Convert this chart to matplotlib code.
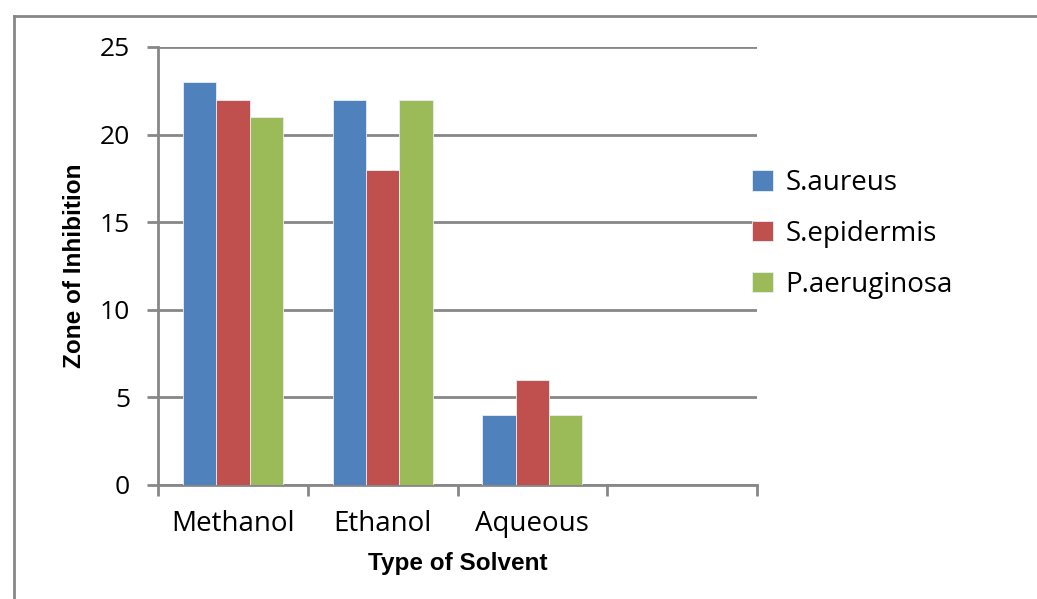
import numpy as np
import matplotlib
matplotlib.use('Agg')
import matplotlib.pyplot as plt
from matplotlib.lines import Line2D

solvents = ['Methanol', 'Ethanol', 'Aqueous', '']
s_aureus = [23, 22, 4]
s_epidermis = [22, 18, 6]
p_aeruginosa = [21, 22, 4]
series_names = ['S.aureus', 'S.epidermis', 'P.aeruginosa']
colors = ['#4F81BD', '#C0504D', '#9BBB59']

grid_col = '#878787'
tick_font = 'Open Sans'

fig = plt.figure(figsize=(10.37, 5.99), dpi=100)
ax = fig.add_axes([158 / 1037, 114 / 599, 599 / 1037, 438 / 599])

# outer chart frame (cropped)
fig.add_artist(Line2D([14 / 1037, 14 / 1037], [0, 1 - 15.5 / 599], transform=fig.transFigure,
                      color=grid_col, lw=2))
fig.add_artist(Line2D([14 / 1037, 1], [1 - 15.5 / 599, 1 - 15.5 / 599], transform=fig.transFigure,
                      color=grid_col, lw=2))

x = np.arange(len(s_aureus))
w = 1 / 4.5
for i, vals in enumerate([s_aureus, s_epidermis, p_aeruginosa]):
    ax.bar(x + (i - 1) * w, vals, width=w, color=colors[i], edgecolor='#e8eef5',
           linewidth=0.6, label=series_names[i], zorder=3)

ax.set_xlim(-0.5, 3.5)
ax.set_ylim(0, 25)
ax.set_yticks(range(0, 26, 5))
ax.set_yticklabels([str(v) for v in range(0, 26, 5)], fontsize=19, family=tick_font)
ax.set_xticks(range(4))
ax.set_xticklabels(solvents, fontsize=20, family=tick_font)
ax.set_xticks(np.arange(-0.5, 4, 1), minor=True)
ax.tick_params(axis='x', which='major', length=0, pad=18)
ax.tick_params(axis='x', which='minor', length=8, width=2, color=grid_col)
ax.tick_params(axis='y', length=8, width=2, color=grid_col, pad=12)

ax.grid(axis='y', color=grid_col, lw=2, zorder=0)
for s in ['top', 'right']:
    ax.spines[s].set_visible(False)
for s in ['left', 'bottom']:
    ax.spines[s].set_color(grid_col)
    ax.spines[s].set_linewidth(2)

ax.set_ylabel('Zone of Inhibition', fontsize=17.5, fontweight='bold', family='Liberation Sans', labelpad=10)
ax.set_xlabel('Type of Solvent', fontsize=17.5, fontweight='bold', family='Liberation Sans', labelpad=10)

ax.legend(loc='center left', bbox_to_anchor=(727 / 1037, 1 - 234 / 599), bbox_transform=fig.transFigure,
          frameon=False, prop={'family': tick_font, 'size': 20}, handlelength=0.75, handleheight=0.75,
          handletextpad=0.45, labelspacing=0.82)

fig.savefig('out.png', dpi=100)
